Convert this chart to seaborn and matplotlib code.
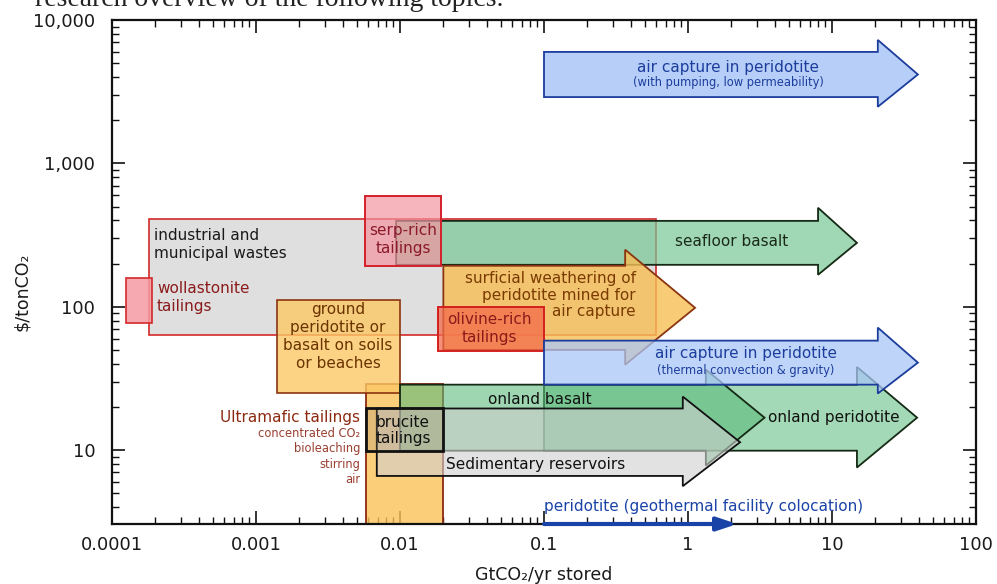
import numpy as np
import matplotlib
matplotlib.use("Agg")
import matplotlib.pyplot as plt
import matplotlib.colors as mcolors
from matplotlib.ticker import FixedLocator, FixedFormatter, LogLocator, NullFormatter
import seaborn as sns

# ---------------- data ----------------
x_ticks = [0.0001, 0.001, 0.01, 0.1, 1, 10, 100]
x_tick_labels = ["0.0001", "0.001", "0.01", "0.1", "1", "10", "100"]
y_ticks = [10, 100, 1000, 10000]
y_tick_labels = ["10", "100", "1,000", "10,000"]

# rectangles (GtCO2/yr range, $/tCO2 range)
box_names = ["industrial", "wollastonite", "serp", "ground", "olivine", "ultramafic", "brucite"]
box_x0 = [0.00018, 0.000125, 0.0057, 0.0014, 0.0185, 0.0058, 0.0058]
box_x1 = [0.6, 0.00019, 0.0192, 0.01, 0.1, 0.02, 0.02]
box_y0 = [63, 77, 193, 25, 49, 1, 9.8]
box_y1 = [410, 159, 594, 112, 100, 29, 19.5]

# arrows: start, head base, tip, body low/high, head low/high
arr_names = ["air_pump", "seafloor", "surficial", "air_conv", "onland_peri", "onland_basalt", "sedimentary"]
arr_x0 = [0.1, 0.0094, 0.02, 0.1, 0.1, 0.01, 0.0069]
arr_xb = [20.8, 8.0, 0.366, 20.8, 14.9, 1.33, 0.92]
arr_xt = [39.5, 14.9, 1.12, 39.5, 39.0, 3.4, 2.3]
arr_bl = [2900, 196, 50, 28.6, 9.9, 9.9, 6.6]
arr_bh = [5990, 397, 193, 58, 28.6, 28.6, 19.5]
arr_hl = [2480, 167, 39.4, 24.8, 7.55, 7.8, 5.6]
arr_hh = [7260, 490, 250, 71.5, 38.0, 36.4, 23.6]

# geothermal colocation arrow (along axis)
geo_x = [0.1, 2.2]

# ---------------- style ----------------
sns.set_theme(style="ticks")
plt.rcParams['font.family'] = ['DejaVu Sans']

box_face = {"industrial": ("#dcdcdc", 0.9), "wollastonite": ("#f59aa3", 0.85),
            "serp": ("#f394a0", 0.7), "ground": ("#fcc865", 0.8),
            "olivine": ("#f26a4a", 0.75), "ultramafic": ("#fbc258", 0.8),
            "brucite": ("#9a8a70", 0.25)}
box_edge = {"industrial": ("#d42a2a", 1.2), "wollastonite": ("#d42a2a", 1.2),
            "serp": ("#d4202a", 1.4), "ground": ("#8b3510", 1.2),
            "olivine": ("#d42020", 1.4), "ultramafic": ("#8b2a10", 1.3),
            "brucite": ("#111111", 2.0)}
arr_face = {"air_pump": ("#b3cdf8", 0.95), "seafloor": ("#78c795", 0.7),
            "surficial": ("#f7be55", 0.8), "air_conv": ("#a9c6f6", 0.75),
            "onland_peri": ("#7cca98", 0.7), "onland_basalt": ("#5cbb7c", 0.6),
            "sedimentary": ("#cfcfcf", 0.6)}
arr_edge = {"air_pump": "#1c3d9c", "seafloor": "#152a15", "surficial": "#8b3510",
            "air_conv": "#1c3d9c", "onland_peri": "#152a15", "onland_basalt": "#152a15",
            "sedimentary": "#111111"}

fig = plt.figure(figsize=(9.97, 5.84), dpi=100)
ax = fig.add_axes([112 / 997, 1 - 524 / 584, (976 - 112) / 997, (524 - 20) / 584])
ax.set_xscale("log")
ax.set_yscale("log")
ax.set_xlim(1e-4, 100)
ax.set_ylim(3.05, 10000)
ax.set_facecolor("white")


def draw_box(i, z):
    n = box_names[i]
    fc, a = box_face[n]
    ec, lw = box_edge[n]
    ax.fill([box_x0[i], box_x1[i], box_x1[i], box_x0[i]],
            [box_y0[i], box_y0[i], box_y1[i], box_y1[i]],
            facecolor=mcolors.to_rgba(fc, a), edgecolor=ec, lw=lw, zorder=z)


def draw_arrow(i, z):
    n = arr_names[i]
    fc, a = arr_face[n]
    yc = np.sqrt(arr_bl[i] * arr_bh[i])
    xs = [arr_x0[i], arr_xb[i], arr_xb[i], arr_xt[i], arr_xb[i], arr_xb[i], arr_x0[i]]
    ys = [arr_bl[i], arr_bl[i], arr_hl[i], yc, arr_hh[i], arr_bh[i], arr_bh[i]]
    ax.fill(xs, ys, facecolor=mcolors.to_rgba(fc, a), edgecolor=arr_edge[n],
            lw=1.3, joinstyle="miter", zorder=z)


B = {n: k for k, n in enumerate(box_names)}
A = {n: k for k, n in enumerate(arr_names)}

draw_box(B["industrial"], 2)
draw_box(B["wollastonite"], 2)
draw_arrow(A["seafloor"], 3)
draw_box(B["serp"], 4)
draw_box(B["ground"], 4)
draw_arrow(A["surficial"], 5)
draw_box(B["olivine"], 6)
draw_box(B["ultramafic"], 3)
draw_arrow(A["onland_peri"], 4)
draw_arrow(A["onland_basalt"], 5)
draw_arrow(A["sedimentary"], 6)
draw_box(B["brucite"], 7)
draw_arrow(A["air_conv"], 7)
draw_arrow(A["air_pump"], 7)

ax.annotate("", xy=(geo_x[1], 3.05), xytext=(geo_x[0], 3.05),
            arrowprops=dict(arrowstyle="-|>,head_length=1.2,head_width=0.4",
                            color="#1a43a8", lw=3, shrinkA=0, shrinkB=0,
                            mutation_scale=10),
            annotation_clip=False, zorder=12)

# ---------------- texts ----------------
fs = 11
fss = 8.3
ax.text(0.000196, 270, "industrial and\nmunicipal wastes", fontsize=fs, color="#1a1a1a",
        ha="left", va="center", linespacing=1.25, zorder=10)
ax.text(0.000205, 116, "wollastonite\ntailings", fontsize=fs, color="#8b1a1a",
        ha="left", va="center", linespacing=1.25, zorder=10)
ax.text(0.0105, 293, "serp-rich\ntailings", fontsize=fs, color="#8b1a2a",
        ha="center", va="center", linespacing=1.25, zorder=10)
ax.text(0.00371, 62.2, "ground\nperidotite or\nbasalt on soils\nor beaches", fontsize=fs,
        color="#6b3300", ha="center", va="center", linespacing=1.25, zorder=10)
surf_lines = ["surficial weathering of", "peridotite mined for", "air capture"]
surf_y = [158, 119, 92]
for t, yy in zip(surf_lines, surf_y):
    ax.text(0.435, yy, t, fontsize=fs, color="#7a3a00", ha="right", va="center", zorder=10)
ax.text(0.0419, 70.8, "olivine-rich\ntailings", fontsize=fs, color="#8b1a1a",
        ha="center", va="center", linespacing=1.25, zorder=10)
ax.text(2.02, 284, "seafloor basalt", fontsize=fs, color="#1a2a1a",
        ha="center", va="center", zorder=10)
ax.text(1.90, 4700, "air capture in peridotite", fontsize=fs, color="#1c3d9c",
        ha="center", va="center", zorder=10)
ax.text(1.90, 3640, "(with pumping, low permeability)", fontsize=fss, color="#1c3d9c",
        ha="center", va="center", zorder=10)
ax.text(2.53, 47, "air capture in peridotite", fontsize=fs, color="#1c3d9c",
        ha="center", va="center", zorder=10)
ax.text(2.53, 35.8, "(thermal convection & gravity)", fontsize=fss, color="#1c3d9c",
        ha="center", va="center", zorder=10)
ax.text(0.00527, 16.8, "Ultramafic tailings", fontsize=fs, color="#8b2a10",
        ha="right", va="center", zorder=10)
ultra_lines = ["concentrated CO₂", "bioleaching", "stirring", "air"]
ultra_y = [13.0, 10.2, 7.9, 6.2]
for t, yy in zip(ultra_lines, ultra_y):
    ax.text(0.00527, yy, t, fontsize=fss, color="#9a4030", ha="right", va="center", zorder=10)
ax.text(0.0105, 13.7, "brucite\ntailings", fontsize=fs, color="#111111",
        ha="center", va="center", linespacing=1.15, zorder=10)
ax.text(0.0938, 22.5, "onland basalt", fontsize=fs, color="#111111",
        ha="center", va="center", zorder=10)
ax.text(0.0208, 7.9, "Sedimentary reservoirs", fontsize=fs, color="#111111",
        ha="left", va="center", zorder=10)
ax.text(10.3, 16.8, "onland peridotite", fontsize=fs, color="#111111",
        ha="center", va="center", zorder=10)
ax.text(0.1, 4.04, "peridotite (geothermal facility colocation)", fontsize=fs,
        color="#1a43a8", ha="left", va="center", zorder=10)

# cropped header line from the source page (only its lower part is visible)
fig.text(35 / 997, 1 - 6.5 / 584, "research overview of the following topics.",
         fontsize=20, family=["Liberation Serif", "DejaVu Serif"], color="#222222",
         ha="left", va="baseline")

# ---------------- axes ----------------
ax.xaxis.set_major_locator(FixedLocator(x_ticks))
ax.xaxis.set_major_formatter(FixedFormatter(x_tick_labels))
ax.yaxis.set_major_locator(FixedLocator(y_ticks))
ax.yaxis.set_major_formatter(FixedFormatter(y_tick_labels))
ax.xaxis.set_minor_locator(LogLocator(base=10, subs=np.arange(2, 10), numticks=20))
ax.yaxis.set_minor_locator(LogLocator(base=10, subs=np.arange(2, 10), numticks=20))
ax.xaxis.set_minor_formatter(NullFormatter())
ax.yaxis.set_minor_formatter(NullFormatter())

ax.tick_params(which="both", direction="in", top=True, right=True, colors="#111111")
ax.tick_params(which="major", length=9.5, width=1.2, labelsize=13, labelcolor="#1a1a1a")
ax.tick_params(which="minor", length=5, width=1.0)
ax.tick_params(axis="y", which="major", pad=12)
ax.tick_params(axis="x", which="major", pad=9)
for s in ax.spines.values():
    s.set_color("#111111")
    s.set_linewidth(1.6)
    s.set_zorder(11)
ax.grid(False)

ax.set_xlabel("GtCO₂/yr stored", fontsize=12.5, color="#1a1a1a", labelpad=8)
ax.set_ylabel("$/tonCO₂", fontsize=12.5, color="#1a1a1a")
ax.yaxis.set_label_coords(-0.094, 0.46)

fig.savefig("out.png", dpi=100)
